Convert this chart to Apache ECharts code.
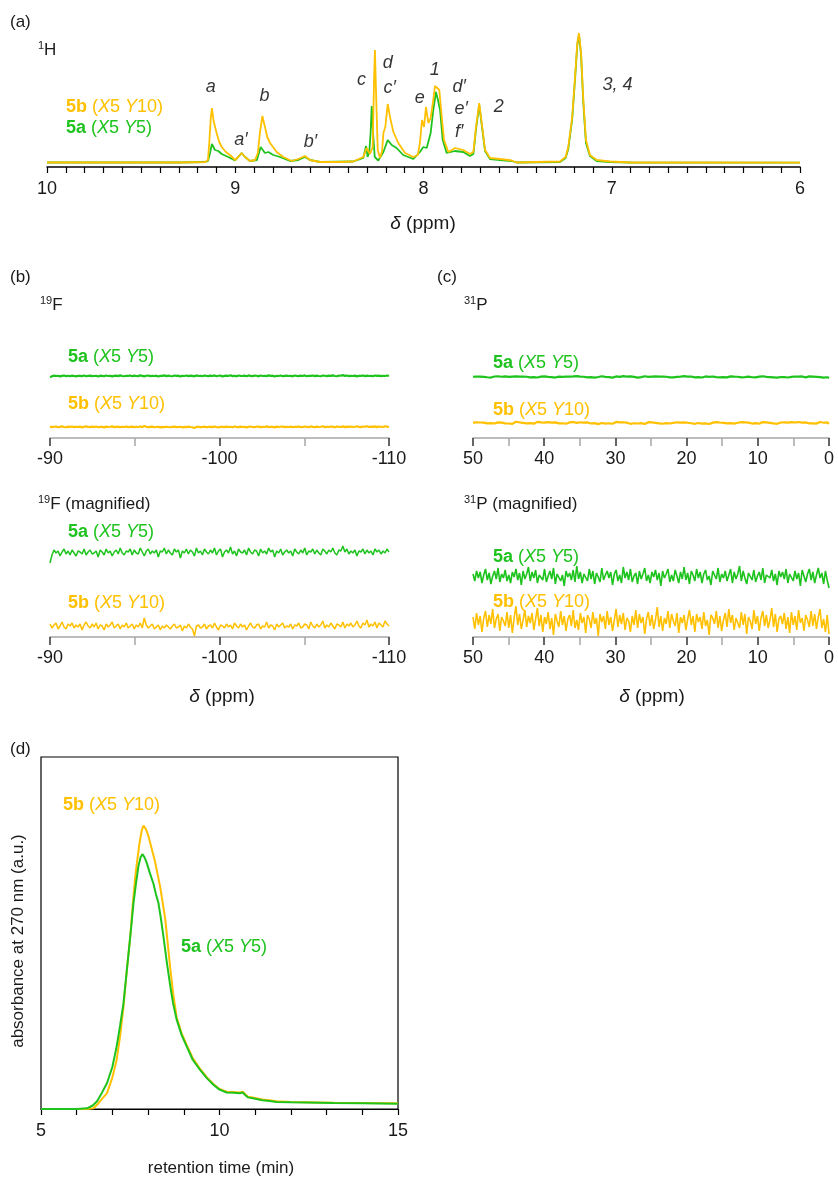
<!DOCTYPE html>
<html>
<head>
<meta charset="utf-8">
<script src="https://cdn.jsdelivr.net/npm/echarts@6.0.0/dist/echarts.min.js"></script>
<style>
  html, body { margin: 0; padding: 0; background: #fff; }
  #chart { width: 838px; height: 1180px; }
</style>
</head>
<body>
<div id="chart"></div>
<script>
// ---- data ----

// (a) 1H NMR, [ppm, intensity]
const h5b = [[10,0.5],[9.6,0.5],[9.3,0.5],[9.16,1],[9.145,3],[9.138,20],[9.13,45],[9.124,55],[9.115,42],[9.099,30],[9.085,21],[9.072,16],[9.05,11],[9.028,8],[9.001,3],[8.984,6],[8.966,10],[8.948,6],[8.922,2],[8.895,3],[8.88,10],[8.869,30],[8.856,47],[8.842,36],[8.83,26],[8.815,20],[8.78,11],[8.745,6],[8.70,2],[8.665,4],[8.63,7],[8.603,3],[8.55,1],[8.45,1],[8.373,1.5],[8.32,6],[8.302,15],[8.284,9],[8.27,16],[8.263,80],[8.258,113],[8.251,63],[8.243,13],[8.231,5],[8.22,12],[8.213,30],[8.203,36],[8.19,59],[8.178,46],[8.16,31],[8.134,20],[8.098,10],[8.054,6],[8.03,8],[8.019,20],[8.008,43],[7.997,36],[7.987,56],[7.974,40],[7.962,45],[7.948,63],[7.939,77],[7.927,75],[7.916,73],[7.903,46],[7.891,23],[7.868,11],[7.85,13],[7.833,15],[7.789,13],[7.753,9],[7.735,11],[7.721,36],[7.704,60],[7.688,36],[7.673,13],[7.647,5],[7.594,4],[7.55,3],[7.532,2.5],[7.505,0.5],[7.4,1],[7.275,1.5],[7.245,6],[7.231,16],[7.21,46],[7.195,86],[7.183,120],[7.174,130],[7.163,110],[7.151,63],[7.137,23],[7.116,8],[7.08,3],[7.009,1.5],[6.9,0.5],[6.5,0.5],[6,0.3]];
const h5a = [[10,0.5],[9.6,0.5],[9.3,0.5],[9.16,1],[9.145,2],[9.134,10],[9.124,19],[9.108,13],[9.09,12],[9.072,9],[9.037,6],[9.001,2.5],[8.984,6],[8.966,10],[8.948,6],[8.922,2],[8.885,3],[8.865,16],[8.856,16],[8.842,10],[8.824,11],[8.798,8],[8.762,6],[8.709,2],[8.665,3],[8.63,6],[8.603,3],[8.55,1],[8.373,1.5],[8.32,5],[8.305,17],[8.297,6],[8.288,11],[8.281,30],[8.275,57],[8.268,30],[8.259,6],[8.24,2.5],[8.213,11],[8.19,23],[8.169,18],[8.143,15],[8.108,8],[8.054,4],[8.019,11],[8.001,16],[7.983,15],[7.962,30],[7.948,53],[7.934,71],[7.923,63],[7.912,53],[7.898,23],[7.877,10],[7.833,12],[7.789,11],[7.753,7],[7.735,9],[7.721,34],[7.704,58],[7.688,34],[7.673,12],[7.647,4],[7.594,3],[7.532,2],[7.505,0.5],[7.275,1],[7.245,5],[7.231,14],[7.21,44],[7.195,84],[7.183,118],[7.174,128],[7.163,108],[7.151,60],[7.137,20],[7.116,7],[7.08,2],[7.009,1],[6.9,0.5],[6,0.3]];

// peak assignments [label, ppm, height]
const hPeakLabels = [
  ['a', 9.13, 76], ['a\u2032', 8.97, 23], ['b', 8.845, 67], ['b\u2032', 8.6, 21],
  ['c', 8.33, 83], ['d', 8.19, 100], ['c\u2032', 8.18, 75], ['e', 8.02, 65],
  ['1', 7.94, 93], ['d\u2032', 7.81, 76], ['e\u2032', 7.8, 54], ['f\u2032', 7.81, 31],
  ['2', 7.6, 56], ['3, 4', 6.97, 78]
];

// (b) 19F and (c) 31P baseline noise (magnified scale, a.u.)
const f5a = [
  -10,-2,3,0,2,-3,1,4,-1,2,-2,3,0,-3,2,1,-1,4,-2,1,
  3,-1,0,2,-4,3,1,-2,4,0,2,-3,1,3,-1,5,0,-2,2,1,
  4,-2,3,0,-1,5,1,-3,2,4,-1,2,0,3,-4,2,1,5,-1,3,
  0,-2,4,1,3,-5,2,0,4,-1,3,1,-3,5,0,2,-2,4,1,-1,
  3,0,5,-2,2,4,-4,1,3,0,6,-1,2,-3,4,1,0,3,-2,5,
  1,-1,3,2,-3,4,0,2,-1,5,1,3,-4,2,0,4,-2,1,3,0,
  2,-3,4,1,-1,3,0,5,-2,2,1,4,-1,3,0,-2,4,2,-1,3,
  1,5,0,-2,3,2,7,1,4,-1,2,0,3,-3,2,1,4,-1,3,0,
  2,-2,4,1,3,-1,2,0,4,1
];
const f5b = [
  3,-1,2,4,-2,1,5,0,-2,3,1,4,-1,2,0,3,-3,2,5,1,
  -1,3,0,4,-2,2,1,-3,3,0,2,5,-1,1,3,-2,2,0,4,-1,
  1,3,-2,2,0,4,-1,9,2,-1,1,3,-2,0,2,-3,1,-1,2,0,
  -2,1,3,-1,0,2,-4,1,-1,3,0,-2,-9,1,2,-1,0,3,-2,1,
  2,-1,4,0,-3,2,1,-1,3,0,2,-2,4,1,-1,3,0,2,-3,1,
  4,0,-1,2,3,-2,1,0,5,-1,2,1,-3,3,0,2,4,-1,1,0,
  3,-2,2,1,4,-1,0,3,2,-2,5,1,-1,3,0,2,6,-1,2,0,
  4,1,-2,3,2,0,5,-1,3,1,4,0,2,6,1,-1,4,2,7,0,
  3,1,5,-1,4,2,0,6,3,1
];
const p5a = [
  3,-4,6,-1,5,-6,2,8,-3,4,-7,1,6,-2,9,-5,3,-1,7,-4,
  2,-6,5,0,8,-3,4,-8,6,-2,3,10,-4,5,-1,7,-6,2,4,-3,
  8,-5,1,6,-2,9,-7,3,5,-4,2,-9,6,0,4,-3,7,-5,11,-2,
  5,-6,3,1,-4,8,-2,6,-7,4,0,-5,9,-3,2,6,-1,5,-8,3,
  7,-4,2,-6,10,-1,5,-3,8,-5,1,4,-7,6,-2,3,9,-4,2,-6,
  5,0,7,-3,4,-9,6,-1,3,8,-5,2,-4,7,1,-6,5,-2,10,-3,
  4,-7,6,2,-4,8,-1,5,-6,3,7,-3,1,-8,6,4,-2,9,-5,3,
  -1,6,-4,2,8,-6,5,-2,3,11,-4,6,-1,-7,4,2,-3,7,-5,1,
  5,-3,9,-6,2,4,-1,7,-4,3,-8,6,0,5,-2,8,-6,3,1,-4,
  6,-2,4,-9,7,1,-5,3,8,-3,5,-6,2,9,-1,4,-7,6,-3,-11
];
const p5b = [
  5,-7,9,-3,6,-10,4,11,-5,7,-2,13,-6,3,8,-9,5,1,-4,10,
  -6,7,-11,4,16,-3,8,-7,2,12,-5,6,-1,9,-8,3,14,-4,7,-10,
  5,-2,10,-7,4,-13,8,1,-5,11,-3,6,-9,3,7,-4,12,-6,2,-8,
  9,-1,5,-11,7,3,-6,10,-2,4,-14,8,0,6,-7,11,-3,5,-9,2,
  13,-5,7,-2,9,-8,4,1,-10,6,-3,12,-6,8,-1,5,-12,3,10,-4,
  7,-7,2,15,-5,6,-9,4,-2,11,-6,8,1,-4,9,-11,5,-1,7,-8,
  3,12,-3,6,-10,8,0,5,-7,10,-4,2,-13,7,4,-2,11,-6,6,-9,
  2,9,-5,13,-1,7,-8,4,3,-6,10,-3,8,-12,5,1,-7,12,-2,6,
  -9,4,11,-4,7,-6,2,14,-5,8,-10,3,6,-2,9,-7,5,-11,10,-3,
  6,-8,12,-1,4,-9,7,2,-5,11,-4,8,-7,5,13,-6,3,-10,7,-12
];

// (d) SEC traces, [retention time (min), absorbance]
const sec5b = [[5,0],[6.3,0],[6.47,0.2],[6.6,1.5],[6.72,3],[6.85,4.5],[7.0,9],[7.12,14],[7.22,21],[7.31,29],[7.4,39],[7.5,49],[7.57,58],[7.64,66],[7.7,71],[7.76,75.6],[7.82,79],[7.87,80.5],[7.94,79.5],[8.01,77.5],[8.1,74],[8.2,70],[8.27,66.5],[8.34,63],[8.41,58.5],[8.48,54],[8.55,47],[8.62,40],[8.7,33],[8.8,26],[8.94,21.5],[9.08,18.2],[9.25,14.5],[9.45,11.5],[9.65,9],[9.83,7.1],[10.0,5.7],[10.2,4.9],[10.4,4.8],[10.57,4.7],[10.65,4.9],[10.72,4.2],[10.8,3.5],[11.0,3.1],[11.2,2.7],[11.4,2.5],[11.6,2.2],[12,2],[13.2,1.8],[14,1.7],[15,1.6]];
const sec5a = [[5,0],[6.0,0],[6.29,0.2],[6.45,1],[6.57,2.2],[6.7,4.5],[6.85,7.4],[7.0,12],[7.12,17.8],[7.22,24],[7.31,30],[7.38,37],[7.45,44],[7.52,51],[7.59,58.5],[7.66,64],[7.73,69],[7.79,71.5],[7.84,72.4],[7.9,71.5],[7.96,70],[8.05,67],[8.15,64],[8.22,61],[8.29,58.5],[8.36,54],[8.43,49],[8.52,42],[8.62,35],[8.7,30],[8.8,25.4],[8.94,21],[9.08,17.8],[9.25,14],[9.45,11.2],[9.65,8.7],[9.83,6.9],[10.0,5.5],[10.2,4.7],[10.4,4.6],[10.57,4.5],[10.65,4.7],[10.72,4],[10.8,3.3],[11.0,2.9],[11.2,2.5],[11.4,2.3],[11.6,2.0],[12.0,1.9],[13.2,1.7],[14,1.6],[15,1.5]];

// ---- styling ----
const FONT = "'Liberation Sans', Arial, sans-serif";
const GREEN = '#1ec31e';
const ORANGE = '#ffc000';
const INK = '#1a1a1a';

/**
 * put a noise list onto its ppm range, then shift/scale it for stacking
 */
function onRange(from, to, vals, offset, scale) {
  return vals.map(function (v, i) {
    return [from + (to - from) * i / (vals.length - 1), offset + scale * v];
  });
}

function line(xi, data, color, width, z) {
  return {
    type: 'line', xAxisIndex: xi, yAxisIndex: xi, data: data,
    showSymbol: false, symbol: 'none', silent: true, z: z || 2,
    lineStyle: { color: color, width: width }
  };
}

function nmrAxis(gi, min, max, interval, split) {
  return {
    gridIndex: gi, type: 'value', min: min, max: max, interval: interval, inverse: true,
    axisLine: { onZero: false, lineStyle: { color: '#a6a6a6', width: 1.5 } },
    axisTick: { length: 8, lineStyle: { color: '#333', width: 1.5 } },
    minorTick: { show: true, splitNumber: split, length: 8, lineStyle: { color: '#a6a6a6', width: 1.5 } },
    splitLine: { show: false },
    axisLabel: { fontSize: 18, color: INK, fontFamily: FONT, margin: 12 }
  };
}

const rich = {
  n: { fontSize: 18, fontFamily: FONT },
  b: { fontSize: 18, fontFamily: FONT, fontWeight: 'bold' },
  i: { fontSize: 18, fontFamily: FONT, fontStyle: 'italic' },
  s: { fontSize: 11, fontFamily: FONT, verticalAlign: 'top', lineHeight: 19 },
  m: { fontSize: 17, fontFamily: FONT, lineHeight: 19 },
  ti: { fontSize: 19, fontFamily: FONT, fontStyle: 'italic' },
  tn: { fontSize: 19, fontFamily: FONT }
};

function txt(x, y, text, color, extra) {
  return {
    type: 'text', x: x, y: y, silent: true,
    style: Object.assign({
      text: text, fill: color || INK, rich: rich,
      font: '18px ' + FONT, textVerticalAlign: 'middle'
    }, extra || {})
  };
}

function label5a(x, y) {
  return txt(x, y, '{b|5a}{n| (}{i|X}{n|5 }{i|Y}{n|5)}', GREEN);
}
function label5b(x, y) {
  return txt(x, y, '{b|5b}{n| (}{i|X}{n|5 }{i|Y}{n|10)}', ORANGE);
}
function ppmTitle(x, y) {
  return txt(x, y, '{ti|\u03b4}{tn| (ppm)}', INK, { textAlign: 'center' });
}

// ---- chart ----
const chart = echarts.init(document.getElementById('chart'), null, { renderer: 'canvas' });

const grids = [
  { left: 47, top: 20, width: 753, height: 147 },   // (a)
  { left: 50, top: 340, width: 339, height: 98 },   // (b) top
  { left: 50, top: 520, width: 339, height: 117 },  // (b) magnified
  { left: 473, top: 340, width: 356, height: 98 },  // (c) top
  { left: 473, top: 520, width: 356, height: 117 }, // (c) magnified
  { left: 41, top: 757, width: 357, height: 352, show: true, borderColor: '#000', borderWidth: 1.2 } // (d)
];

const xAxes = [
  {
    gridIndex: 0, type: 'value', min: 6, max: 10, interval: 1, inverse: true,
    axisLine: { onZero: false, lineStyle: { color: '#000', width: 1.5 } },
    axisTick: { length: 6, lineStyle: { color: '#000', width: 1.2 } },
    minorTick: { show: true, splitNumber: 10, length: 6, lineStyle: { color: '#000', width: 1.2 } },
    splitLine: { show: false },
    axisLabel: { fontSize: 18, color: INK, fontFamily: FONT, margin: 13 }
  },
  nmrAxis(1, -110, -90, 10, 2),
  nmrAxis(2, -110, -90, 10, 2),
  nmrAxis(3, 0, 50, 10, 2),
  nmrAxis(4, 0, 50, 10, 2),
  {
    gridIndex: 5, type: 'value', min: 5, max: 15, interval: 5,
    axisLine: { onZero: false, lineStyle: { color: '#000', width: 1.2 } },
    axisTick: { length: 6, lineStyle: { color: '#000', width: 1.2 } },
    minorTick: { show: true, splitNumber: 5, length: 6, lineStyle: { color: '#000', width: 1.2 } },
    splitLine: { show: false },
    axisLabel: { fontSize: 18, color: INK, fontFamily: FONT, margin: 13 }
  }
];

const yAxes = [
  { gridIndex: 0, min: -4, max: 143 },
  { gridIndex: 1, min: 0, max: 98 },
  { gridIndex: 2, min: 0, max: 117 },
  { gridIndex: 3, min: 0, max: 98 },
  { gridIndex: 4, min: 0, max: 117 },
  { gridIndex: 5, min: 0, max: 100 }
].map(function (a) {
  return Object.assign({ type: 'value', show: false, splitLine: { show: false } }, a);
});

const series = [
  line(0, h5a, GREEN, 1.8, 2),
  line(0, h5b, ORANGE, 1.8, 3),
  // 19F, full scale and magnified
  line(1, onRange(-90, -110, f5a, 62, 0.12), GREEN, 2.2),
  line(1, onRange(-90, -110, f5b, 11, 0.12), ORANGE, 2.2),
  line(2, onRange(-90, -110, f5a, 84, 1), GREEN, 1.5),
  line(2, onRange(-90, -110, f5b, 10, 1), ORANGE, 1.5),
  // 31P, full scale and magnified
  line(3, onRange(50, 0, p5a, 61, 0.08), GREEN, 2.2),
  line(3, onRange(50, 0, p5b, 15, 0.08), ORANGE, 2.2),
  line(4, onRange(50, 0, p5a, 60, 1), GREEN, 1.6),
  line(4, onRange(50, 0, p5b, 15, 1), ORANGE, 1.6),
  // SEC
  line(5, sec5b, ORANGE, 2, 2),
  line(5, sec5a, GREEN, 2, 3)
];

// peak letters placed through the (a) axes as invisible points with labels
series.push({
  type: 'scatter', xAxisIndex: 0, yAxisIndex: 0, symbolSize: 0, silent: true,
  data: hPeakLabels.map(function (p) { return { value: [p[1], p[2]], name: p[0] }; }),
  label: {
    show: true, position: 'inside', formatter: '{b}',
    fontSize: 18, fontStyle: 'italic', fontFamily: FONT, color: '#000'
  }
});

const graphics = [
  txt(10, 22, '(a)', INK, { font: '17px ' + FONT }),
  txt(38, 50, '{s|1}{m|H}', INK),
  label5b(66, 107),
  label5a(66, 128),
  ppmTitle(423, 224),

  txt(10, 277, '(b)', INK, { font: '17px ' + FONT }),
  txt(40, 305, '{s|19}{m|F}', INK),
  label5a(68, 357),
  label5b(68, 404),
  txt(38, 504, '{s|19}{m|F (magnified)}', INK),
  label5a(68, 532),
  label5b(68, 603),
  ppmTitle(222, 697),

  txt(437, 277, '(c)', INK, { font: '17px ' + FONT }),
  txt(464, 305, '{s|31}{m|P}', INK),
  label5a(493, 363),
  label5b(493, 410),
  txt(464, 504, '{s|31}{m|P (magnified)}', INK),
  label5a(493, 557),
  label5b(493, 602),
  ppmTitle(652, 697),

  txt(10, 749, '(d)', INK, { font: '17px ' + FONT }),
  label5b(63, 805),
  label5a(181, 947),
  txt(221, 1168, 'retention time (min)', INK, { textAlign: 'center', font: '17px ' + FONT }),
  {
    type: 'text', x: 18, y: 941, rotation: Math.PI / 2, silent: true,
    style: {
      text: 'absorbance at 270 nm (a.u.)', fill: INK, font: '17px ' + FONT,
      textAlign: 'center', textVerticalAlign: 'middle'
    }
  }
];

chart.setOption({
  backgroundColor: '#fff',
  animation: false,
  grid: grids,
  xAxis: xAxes,
  yAxis: yAxes,
  series: series,
  graphic: graphics
});
</script>
</body>
</html>
